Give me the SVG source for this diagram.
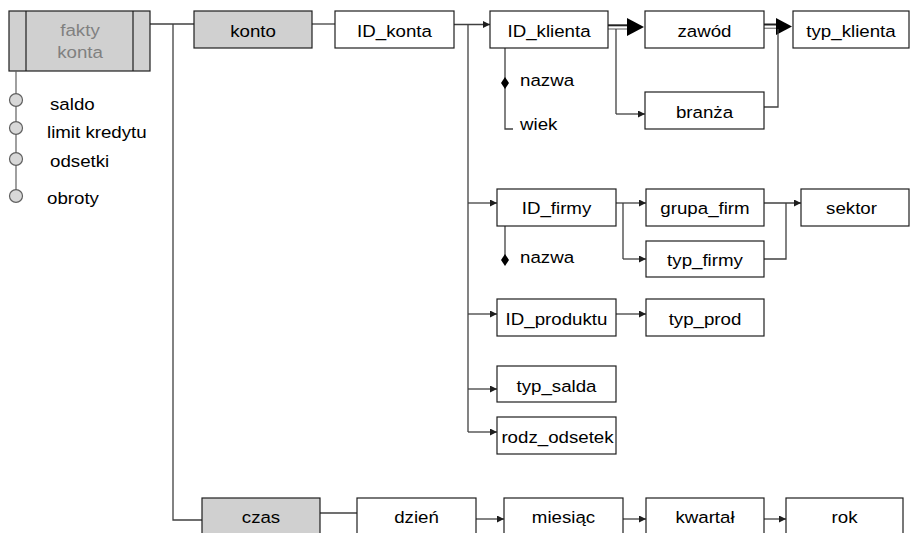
<svg xmlns="http://www.w3.org/2000/svg" width="911" height="533" viewBox="0 0 911 533">
  <style>
    .box { fill: #ffffff; stroke: #1e1e1e; stroke-width: 1.2; }
    .dim { fill: #d0d0d0; stroke: #1e1e1e; stroke-width: 1.2; }
    .ln { fill: none; stroke: #404040; stroke-width: 1.3; }
    .arr { fill: none; stroke: #404040; stroke-width: 1.3; marker-end: url(#tip); }
    .lbl { font-family: "Liberation Sans", Arial, sans-serif; font-size: 17px; fill: #000000; text-anchor: middle; }
    .att { font-family: "Liberation Sans", Arial, sans-serif; font-size: 17px; fill: #000000; }
    .gray { fill: #808080; }
    .meas { fill: #d8d8d8; stroke: #606060; stroke-width: 1.2; }
  </style>
  <defs>
    <marker id="tip" markerUnits="userSpaceOnUse" markerWidth="8" markerHeight="8" refX="7" refY="3.5" orient="auto">
      <path d="M0,0 L7,3.5 L0,7 Z" fill="#1e1e1e"/>
    </marker>
  </defs>
  <rect width="911" height="533" fill="#ffffff"/>

  <!-- connectors -->
  <g id="connectors">
    <!-- fact table to dimensions -->
    <path class="ln" d="M150,24 H194"/>
    <path class="ln" d="M173,24 V520 H202"/>
    <!-- konto branch -->
    <path class="ln" d="M312,24 H335"/>
    <path class="arr" d="M454,24.5 H490"/>
    <path class="ln" d="M468,24.5 V432"/>
    <path class="arr" d="M468,203 H497"/>
    <path class="arr" d="M468,314 H497"/>
    <path class="arr" d="M468,389 H497"/>
    <path class="arr" d="M468,432 H497"/>
    <!-- ID_klienta attributes -->
    <path class="ln" d="M505,48 V129 H513"/>
    <path d="M505,77 L509,83 L505,89 L501,83 Z" fill="#000000"/>
    <!-- ID_klienta hierarchy (double links) -->
    <line x1="608" y1="25.3" x2="630" y2="25.3" stroke="#222222" stroke-width="2"/>
    <line x1="608" y1="29" x2="630" y2="29" stroke="#8a8a8a" stroke-width="1.4"/>
    <path d="M627,18 L644,27 L627,36 Z" fill="#000000"/>
    <path class="ln" d="M616,29 V114"/>
    <path class="arr" d="M616,114 H645"/>
    <line x1="764" y1="24.5" x2="778" y2="24.5" stroke="#222222" stroke-width="2"/>
    <line x1="764" y1="28.3" x2="778" y2="28.3" stroke="#8a8a8a" stroke-width="1.4"/>
    <path d="M776,18 L792,26.5 L776,35 Z" fill="#000000"/>
    <path class="ln" d="M764,107 H778 V29"/>
    <!-- ID_firmy hierarchy -->
    <path class="ln" d="M505,226 V260"/>
    <path d="M505,254 L509,260 L505,266 L501,260 Z" fill="#000000"/>
    <path class="arr" d="M616,203 H646"/>
    <path class="ln" d="M623,203 V259"/>
    <path class="arr" d="M623,259 H646"/>
    <path class="arr" d="M764,203 H801"/>
    <path class="ln" d="M764,259 H786 V203"/>
    <!-- ID_produktu -->
    <path class="arr" d="M616,314 H646"/>
    <!-- czas hierarchy -->
    <path class="ln" d="M320,513 H357"/>
    <path class="arr" d="M476,519 H504"/>
    <path class="arr" d="M623,519 H646"/>
    <path class="arr" d="M764,519 H786"/>
  </g>

  <!-- fact table with measures -->
  <g id="fakty_konta">
    <rect class="dim" x="9" y="11" width="141" height="60"/>
    <line x1="26" y1="11" x2="26" y2="71" stroke="#1e1e1e" stroke-width="1.2"/>
    <line x1="133" y1="11" x2="133" y2="71" stroke="#1e1e1e" stroke-width="1.2"/>
    <text class="lbl gray" transform="translate(80 36) scale(1.1 1)">fakty</text>
    <text class="lbl gray" transform="translate(80 58) scale(1.1 1)">konta</text>
  </g>
  <g id="measures">
    <line x1="16" y1="71" x2="16" y2="190" stroke="#606060" stroke-width="1.2"/>
    <ellipse class="meas" cx="16" cy="100" rx="6.5" ry="6.3"/>
    <ellipse class="meas" cx="16" cy="128" rx="6.5" ry="6.3"/>
    <ellipse class="meas" cx="16" cy="159" rx="6.5" ry="6.3"/>
    <ellipse class="meas" cx="16" cy="196" rx="6.5" ry="6.3"/>
    <text class="att" transform="translate(50 110) scale(1.1 1)">saldo</text>
    <text class="att" transform="translate(47 137.5) scale(1.1 1)">limit kredytu</text>
    <text class="att" transform="translate(50 166.5) scale(1.1 1)">odsetki</text>
    <text class="att" transform="translate(47 204) scale(1.1 1)">obroty</text>
  </g>

  <!-- konto dimension -->
  <g id="konto">
    <rect class="dim" x="194" y="11" width="118" height="37"/>
    <text class="lbl" transform="translate(253 37) scale(1.1 1)">konto</text>
  </g>
  <g id="ID_konta">
    <rect class="box" x="335" y="11" width="119" height="37"/>
    <text class="lbl" transform="translate(394.5 37) scale(1.1 1)">ID_konta</text>
  </g>
  <g id="ID_klienta">
    <rect class="box" x="490" y="11" width="118" height="37"/>
    <text class="lbl" transform="translate(549 37) scale(1.1 1)">ID_klienta</text>
    <text class="att" transform="translate(520 86) scale(1.1 1)">nazwa</text>
    <text class="att" transform="translate(520 130) scale(1.1 1)">wiek</text>
  </g>
  <g id="zawod">
    <rect class="box" x="645" y="11" width="119" height="37"/>
    <text class="lbl" transform="translate(704.5 37) scale(1.1 1)">zawód</text>
  </g>
  <g id="typ_klienta">
    <rect class="box" x="793" y="11" width="116" height="37"/>
    <text class="lbl" transform="translate(851 37) scale(1.1 1)">typ_klienta</text>
  </g>
  <g id="branza">
    <rect class="box" x="645" y="92" width="119" height="37"/>
    <text class="lbl" transform="translate(704.5 118) scale(1.1 1)">branża</text>
  </g>
  <g id="ID_firmy">
    <rect class="box" x="497" y="189" width="119" height="37"/>
    <text class="lbl" transform="translate(556.5 213.5) scale(1.1 1)">ID_firmy</text>
    <text class="att" transform="translate(520 263) scale(1.1 1)">nazwa</text>
  </g>
  <g id="grupa_firm">
    <rect class="box" x="646" y="189" width="118" height="37"/>
    <text class="lbl" transform="translate(705 213.5) scale(1.1 1)">grupa_firm</text>
  </g>
  <g id="sektor">
    <rect class="box" x="801" y="189" width="108" height="37"/>
    <text class="lbl" transform="translate(851.5 213.5) scale(1.1 1)">sektor</text>
  </g>
  <g id="typ_firmy">
    <rect class="box" x="646" y="241" width="118" height="36"/>
    <text class="lbl" transform="translate(705 266) scale(1.1 1)">typ_firmy</text>
  </g>
  <g id="ID_produktu">
    <rect class="box" x="497" y="299" width="119" height="37"/>
    <text class="lbl" transform="translate(556.5 325) scale(1.1 1)">ID_produktu</text>
  </g>
  <g id="typ_prod">
    <rect class="box" x="646" y="299" width="118" height="37"/>
    <text class="lbl" transform="translate(705 325) scale(1.1 1)">typ_prod</text>
  </g>
  <g id="typ_salda">
    <rect class="box" x="497" y="366" width="119" height="36"/>
    <text class="lbl" transform="translate(556.5 392) scale(1.1 1)">typ_salda</text>
  </g>
  <g id="rodz_odsetek">
    <rect class="box" x="497" y="417" width="119" height="37"/>
    <text class="lbl" transform="translate(557.5 443) scale(1.1 1)">rodz_odsetek</text>
  </g>

  <!-- czas dimension -->
  <g id="czas">
    <rect class="dim" x="202" y="498" width="118" height="45"/>
    <text class="lbl" transform="translate(261 523) scale(1.1 1)">czas</text>
  </g>
  <g id="dzien">
    <rect class="box" x="357" y="498" width="119" height="45"/>
    <text class="lbl" transform="translate(416.5 523) scale(1.1 1)">dzień</text>
  </g>
  <g id="miesiac">
    <rect class="box" x="504" y="498" width="119" height="45"/>
    <text class="lbl" transform="translate(563.5 523) scale(1.1 1)">miesiąc</text>
  </g>
  <g id="kwartal">
    <rect class="box" x="646" y="498" width="118" height="45"/>
    <text class="lbl" transform="translate(705 523) scale(1.1 1)">kwartał</text>
  </g>
  <g id="rok">
    <rect class="box" x="786" y="498" width="117" height="45"/>
    <text class="lbl" transform="translate(844.5 523) scale(1.1 1)">rok</text>
  </g>
</svg>
